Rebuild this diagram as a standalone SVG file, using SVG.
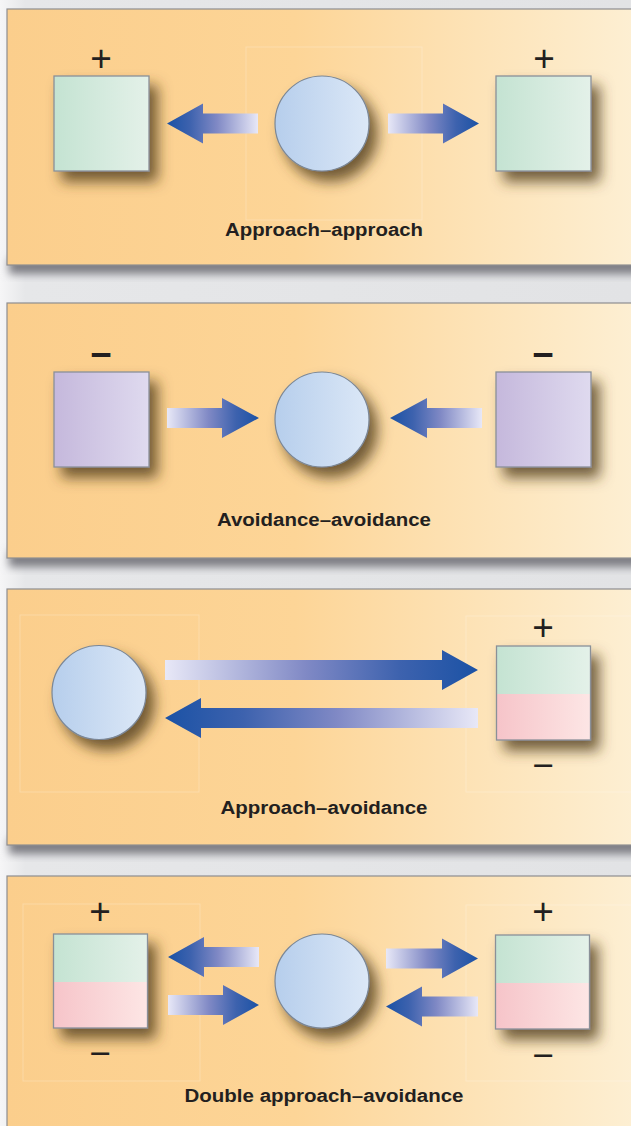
<svg xmlns="http://www.w3.org/2000/svg" width="631" height="1126" viewBox="0 0 631 1126">
<defs>
<linearGradient id="panelG" x1="0" y1="0" x2="1" y2="0">
<stop offset="0" stop-color="#fbce8c"/><stop offset="0.45" stop-color="#fdd597"/><stop offset="1" stop-color="#fdf0d5"/>
</linearGradient>
<linearGradient id="greenG" x1="0" y1="0" x2="1" y2="0"><stop offset="0" stop-color="#c4e3d2"/><stop offset="1" stop-color="#e4f1e9"/></linearGradient>
<linearGradient id="pinkG" x1="0" y1="0" x2="1" y2="0"><stop offset="0" stop-color="#f6c4c9"/><stop offset="1" stop-color="#fde6e5"/></linearGradient>
<linearGradient id="purpleG" x1="0" y1="0" x2="1" y2="0"><stop offset="0" stop-color="#c5b8dc"/><stop offset="1" stop-color="#dfdaef"/></linearGradient>
<linearGradient id="circG" x1="0" y1="0" x2="1" y2="0"><stop offset="0" stop-color="#b6ceec"/><stop offset="1" stop-color="#dce8f7"/></linearGradient>
<linearGradient id="arrR" x1="0" y1="0" x2="1" y2="0"><stop offset="0" stop-color="#e8e8f7"/><stop offset="0.45" stop-color="#8089c5"/><stop offset="0.75" stop-color="#3d62ae"/><stop offset="1" stop-color="#1b52a5"/></linearGradient>
<linearGradient id="arrL" x1="1" y1="0" x2="0" y2="0"><stop offset="0" stop-color="#e8e8f7"/><stop offset="0.45" stop-color="#8089c5"/><stop offset="0.75" stop-color="#3d62ae"/><stop offset="1" stop-color="#1b52a5"/></linearGradient>
<linearGradient id="bgG" x1="0" y1="0" x2="1" y2="0"><stop offset="0" stop-color="#f6f6f7"/><stop offset="0.04" stop-color="#e6e7e9"/><stop offset="1" stop-color="#e2e3e5"/></linearGradient>
<filter id="sh" x="-40%" y="-40%" width="200%" height="200%">
<feDropShadow dx="8" dy="10" stdDeviation="7" flood-color="#4f3a1a" flood-opacity="0.8"/>
</filter>
<filter id="psh" x="-5%" y="-50%" width="110%" height="200%"><feGaussianBlur stdDeviation="4"/></filter>
</defs>
<style>
.panel{fill:url(#panelG);stroke:#8e8e90;stroke-width:1.2}
.pshadow{fill:#7e7e84;filter:url(#psh)}
.sq{stroke:#8a9098;stroke-width:1.3}
.circ{fill:url(#circG);stroke:#7b8796;stroke-width:1.2;filter:url(#sh)}
.faint{fill:none;stroke:#ffffff;stroke-opacity:0.22;stroke-width:1}
.lbl{font-family:"Liberation Sans",Arial,sans-serif;font-weight:bold;font-size:18px;fill:#231f20;text-anchor:middle}
.sign{font-family:"Liberation Sans",Arial,sans-serif;font-size:37px;fill:#231f20;text-anchor:middle}
.ar{fill:url(#arrR)}
.al{fill:url(#arrL)}
</style>
<rect x="0" y="0" width="631" height="1126" fill="url(#bgG)"/>

<g id="panel-shadows">
<rect class="pshadow" x="9" y="258" width="640" height="16"/>
<rect class="pshadow" x="9" y="551" width="640" height="16"/>
<rect class="pshadow" x="9" y="838" width="640" height="16"/>
</g>

<!-- Panel 1 -->
<g id="panel1">
<rect class="panel" x="7" y="9" width="640" height="256"/>
<rect class="faint" x="246" y="47" width="176" height="173"/>
</g>
<g id="p1-left">
<text class="sign" x="101" y="71">+</text>
<rect class="sq" x="54" y="76" width="95" height="95" fill="url(#greenG)" filter="url(#sh)"/>
</g>
<g id="p1-person"><ellipse class="circ" cx="322" cy="123.5" rx="47" ry="47.5"/></g>
<g id="p1-right">
<text class="sign" x="544" y="71">+</text>
<rect class="sq" x="496" y="76" width="95" height="95" fill="url(#greenG)" filter="url(#sh)"/>
</g>
<text id="p1-label" class="lbl" x="324" y="236" textLength="198" lengthAdjust="spacingAndGlyphs">Approach–approach</text>

<!-- Panel 2 -->
<g id="panel2">
<rect class="panel" x="7" y="303" width="640" height="255"/>
</g>
<g id="p2-left">
<text class="sign" x="101" y="367" font-weight="bold">−</text>
<rect class="sq" x="54" y="372" width="95" height="95" fill="url(#purpleG)" filter="url(#sh)"/>
</g>
<g id="p2-person"><ellipse class="circ" cx="322" cy="419.5" rx="47" ry="47.5"/></g>
<g id="p2-right">
<text class="sign" x="543" y="367" font-weight="bold">−</text>
<rect class="sq" x="496" y="372" width="95" height="95" fill="url(#purpleG)" filter="url(#sh)"/>
</g>
<text id="p2-label" class="lbl" x="324" y="526" textLength="214" lengthAdjust="spacingAndGlyphs">Avoidance–avoidance</text>

<!-- Panel 3 -->
<g id="panel3">
<rect class="panel" x="7" y="589" width="640" height="256"/>
<rect class="faint" x="20" y="615" width="179" height="177" stroke-opacity="0.12"/>
<rect class="faint" x="466" y="616" width="180" height="176"/>
</g>
<g id="p3-person"><ellipse class="circ" cx="99" cy="692.5" rx="47" ry="47"/></g>
<g id="p3-goal">
<text class="sign" x="543" y="640">+</text>
<g filter="url(#sh)">
<rect x="496.5" y="646" width="94" height="48" fill="url(#greenG)"/>
<rect x="496.5" y="694" width="94" height="46" fill="url(#pinkG)"/>
<rect class="sq" x="496.5" y="646" width="94" height="94" fill="none"/>
</g>
<text class="sign" x="543" y="778">−</text>
</g>
<text id="p3-label" class="lbl" x="324" y="814" textLength="207" lengthAdjust="spacingAndGlyphs">Approach–avoidance</text>

<!-- Panel 4 -->
<g id="panel4">
<rect class="panel" x="7" y="876" width="640" height="270"/>
<rect class="faint" x="23" y="904" width="177" height="177"/>
<rect class="faint" x="466" y="905" width="180" height="176"/>
</g>
<g id="p4-left">
<text class="sign" x="100" y="924">+</text>
<g filter="url(#sh)">
<rect x="53.5" y="934" width="94" height="48" fill="url(#greenG)"/>
<rect x="53.5" y="982" width="94" height="46" fill="url(#pinkG)"/>
<rect class="sq" x="53.5" y="934" width="94" height="94" fill="none"/>
</g>
<text class="sign" x="100" y="1066">−</text>
</g>
<g id="p4-person"><ellipse class="circ" cx="322" cy="981" rx="47" ry="47"/></g>
<g id="p4-right">
<text class="sign" x="543" y="924">+</text>
<g filter="url(#sh)">
<rect x="495.5" y="935" width="94" height="48" fill="url(#greenG)"/>
<rect x="495.5" y="983" width="94" height="46" fill="url(#pinkG)"/>
<rect class="sq" x="495.5" y="935" width="94" height="94" fill="none"/>
</g>
<text class="sign" x="543" y="1068">−</text>
</g>
<text id="p4-label" class="lbl" x="324" y="1102" textLength="279" lengthAdjust="spacingAndGlyphs">Double approach–avoidance</text>

<g id="connectors">
<path class="al" d="M258,113.5 H203 V103.5 L167,123.5 L203,143.5 V133.5 H258 Z"/>
<path class="ar" d="M388,113.5 H443 V103.5 L479,123.5 L443,143.5 V133.5 H388 Z"/>
<path class="ar" d="M167,408 H222 V398 L259,418 L222,438 V428 H167 Z"/>
<path class="al" d="M482,408 H427 V398 L390,418 L427,438 V428 H482 Z"/>
<path class="ar" d="M165,660 H442 V650 L478,670 L442,690 V680 H165 Z"/>
<path class="al" d="M478,708 H201 V698 L165,718 L201,738 V728 H478 Z"/>
<path class="al" d="M259,947 H204 V937 L168,957 L204,977 V967 H259 Z"/>
<path class="ar" d="M168,995 H223 V985 L259,1005 L223,1025 V1015 H168 Z"/>
<path class="ar" d="M386,948.5 H442 V938.5 L478,958.5 L442,978.5 V968.5 H386 Z"/>
<path class="al" d="M478,996.5 H422 V986.5 L386,1006.5 L422,1026.5 V1016.5 H478 Z"/>
</g>
</svg>
